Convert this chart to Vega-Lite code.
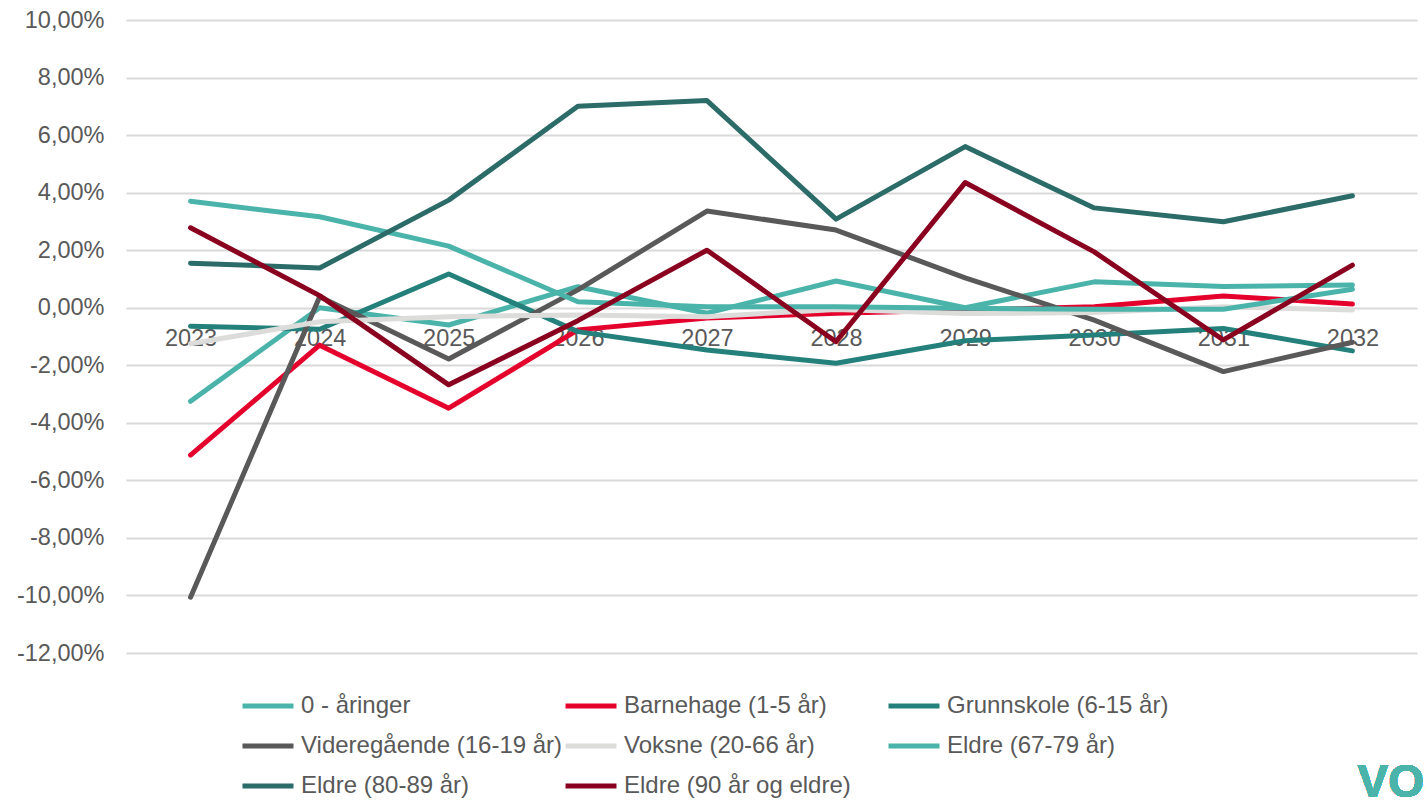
{
  "$schema": "https://vega.github.io/schema/vega-lite/v6.json",
  "autosize": "none",
  "width": 1291,
  "height": 633,
  "padding": {"left": 126, "top": 20, "right": 8, "bottom": 149},
  "background": "white",
  "config": {
    "view": {"stroke": null},
    "font": "Liberation Sans",
    "axis": {"labelFont": "Liberation Sans", "labelColor": "#595959", "labelFontSize": 23.5},
    "legend": {"labelFont": "Liberation Sans", "labelColor": "#595959", "labelFontSize": 24}
  },
  "data": {
    "values": [
      {"serie": "0 - åringer", "year": "2023", "v": -3.25},
      {"serie": "0 - åringer", "year": "2024", "v": 0.0},
      {"serie": "0 - åringer", "year": "2025", "v": -0.6},
      {"serie": "0 - åringer", "year": "2026", "v": 0.73},
      {"serie": "0 - åringer", "year": "2027", "v": -0.19},
      {"serie": "0 - åringer", "year": "2028", "v": 0.93},
      {"serie": "0 - åringer", "year": "2029", "v": 0.0},
      {"serie": "0 - åringer", "year": "2030", "v": 0.9},
      {"serie": "0 - åringer", "year": "2031", "v": 0.74},
      {"serie": "0 - åringer", "year": "2032", "v": 0.79},
      {"serie": "Barnehage (1-5 år)", "year": "2023", "v": -5.12},
      {"serie": "Barnehage (1-5 år)", "year": "2024", "v": -1.3},
      {"serie": "Barnehage (1-5 år)", "year": "2025", "v": -3.49},
      {"serie": "Barnehage (1-5 år)", "year": "2026", "v": -0.77},
      {"serie": "Barnehage (1-5 år)", "year": "2027", "v": -0.36},
      {"serie": "Barnehage (1-5 år)", "year": "2028", "v": -0.19},
      {"serie": "Barnehage (1-5 år)", "year": "2029", "v": -0.08},
      {"serie": "Barnehage (1-5 år)", "year": "2030", "v": 0.03},
      {"serie": "Barnehage (1-5 år)", "year": "2031", "v": 0.41},
      {"serie": "Barnehage (1-5 år)", "year": "2032", "v": 0.13},
      {"serie": "Grunnskole (6-15 år)", "year": "2023", "v": -0.64},
      {"serie": "Grunnskole (6-15 år)", "year": "2024", "v": -0.75},
      {"serie": "Grunnskole (6-15 år)", "year": "2025", "v": 1.17},
      {"serie": "Grunnskole (6-15 år)", "year": "2026", "v": -0.83},
      {"serie": "Grunnskole (6-15 år)", "year": "2027", "v": -1.47},
      {"serie": "Grunnskole (6-15 år)", "year": "2028", "v": -1.93},
      {"serie": "Grunnskole (6-15 år)", "year": "2029", "v": -1.15},
      {"serie": "Grunnskole (6-15 år)", "year": "2030", "v": -0.95},
      {"serie": "Grunnskole (6-15 år)", "year": "2031", "v": -0.72},
      {"serie": "Grunnskole (6-15 år)", "year": "2032", "v": -1.5},
      {"serie": "Videregående (16-19 år)", "year": "2023", "v": -10.06},
      {"serie": "Videregående (16-19 år)", "year": "2024", "v": 0.38},
      {"serie": "Videregående (16-19 år)", "year": "2025", "v": -1.78},
      {"serie": "Videregående (16-19 år)", "year": "2026", "v": 0.62},
      {"serie": "Videregående (16-19 år)", "year": "2027", "v": 3.36},
      {"serie": "Videregående (16-19 år)", "year": "2028", "v": 2.7},
      {"serie": "Videregående (16-19 år)", "year": "2029", "v": 1.04},
      {"serie": "Videregående (16-19 år)", "year": "2030", "v": -0.43},
      {"serie": "Videregående (16-19 år)", "year": "2031", "v": -2.22},
      {"serie": "Videregående (16-19 år)", "year": "2032", "v": -1.2},
      {"serie": "Voksne (20-66 år)", "year": "2023", "v": -1.25},
      {"serie": "Voksne (20-66 år)", "year": "2024", "v": -0.49},
      {"serie": "Voksne (20-66 år)", "year": "2025", "v": -0.31},
      {"serie": "Voksne (20-66 år)", "year": "2026", "v": -0.25},
      {"serie": "Voksne (20-66 år)", "year": "2027", "v": -0.31},
      {"serie": "Voksne (20-66 år)", "year": "2028", "v": -0.06},
      {"serie": "Voksne (20-66 år)", "year": "2029", "v": -0.2},
      {"serie": "Voksne (20-66 år)", "year": "2030", "v": -0.17},
      {"serie": "Voksne (20-66 år)", "year": "2031", "v": 0.03},
      {"serie": "Voksne (20-66 år)", "year": "2032", "v": -0.08},
      {"serie": "Eldre (67-79 år)", "year": "2023", "v": 3.7},
      {"serie": "Eldre (67-79 år)", "year": "2024", "v": 3.16},
      {"serie": "Eldre (67-79 år)", "year": "2025", "v": 2.14},
      {"serie": "Eldre (67-79 år)", "year": "2026", "v": 0.21},
      {"serie": "Eldre (67-79 år)", "year": "2027", "v": 0.03},
      {"serie": "Eldre (67-79 år)", "year": "2028", "v": 0.03},
      {"serie": "Eldre (67-79 år)", "year": "2029", "v": -0.02},
      {"serie": "Eldre (67-79 år)", "year": "2030", "v": -0.05},
      {"serie": "Eldre (67-79 år)", "year": "2031", "v": -0.05},
      {"serie": "Eldre (67-79 år)", "year": "2032", "v": 0.64},
      {"serie": "Eldre (80-89 år)", "year": "2023", "v": 1.55},
      {"serie": "Eldre (80-89 år)", "year": "2024", "v": 1.38},
      {"serie": "Eldre (80-89 år)", "year": "2025", "v": 3.74},
      {"serie": "Eldre (80-89 år)", "year": "2026", "v": 7.0},
      {"serie": "Eldre (80-89 år)", "year": "2027", "v": 7.2},
      {"serie": "Eldre (80-89 år)", "year": "2028", "v": 3.08},
      {"serie": "Eldre (80-89 år)", "year": "2029", "v": 5.6},
      {"serie": "Eldre (80-89 år)", "year": "2030", "v": 3.47},
      {"serie": "Eldre (80-89 år)", "year": "2031", "v": 2.99},
      {"serie": "Eldre (80-89 år)", "year": "2032", "v": 3.89},
      {"serie": "Eldre (90 år og eldre)", "year": "2023", "v": 2.78},
      {"serie": "Eldre (90 år og eldre)", "year": "2024", "v": 0.42},
      {"serie": "Eldre (90 år og eldre)", "year": "2025", "v": -2.68},
      {"serie": "Eldre (90 år og eldre)", "year": "2026", "v": -0.45},
      {"serie": "Eldre (90 år og eldre)", "year": "2027", "v": 2.0},
      {"serie": "Eldre (90 år og eldre)", "year": "2028", "v": -1.18},
      {"serie": "Eldre (90 år og eldre)", "year": "2029", "v": 4.35},
      {"serie": "Eldre (90 år og eldre)", "year": "2030", "v": 1.94},
      {"serie": "Eldre (90 år og eldre)", "year": "2031", "v": -1.12},
      {"serie": "Eldre (90 år og eldre)", "year": "2032", "v": 1.48}
    ]
  },
  "layer": [
    {
      "mark": {"type": "line", "strokeWidth": 5, "strokeCap": "round", "strokeJoin": "round"},
      "encoding": {
        "x": {
          "field": "year", "type": "ordinal",
          "scale": {"type": "point", "padding": 0.5},
          "axis": {"title": null, "domain": false, "ticks": false, "labelAngle": 0, "offset": -345.5, "labelPadding": 19, "zindex": 0, "grid": false}
        },
        "y": {
          "field": "v", "type": "quantitative",
          "scale": {"domain": [-12, 10], "nice": false, "zero": false},
          "axis": {
            "title": null, "domain": false, "ticks": false,
            "values": [-12, -10, -8, -6, -4, -2, 0, 2, 4, 6, 8, 10],
            "labelPadding": 22,
            "gridColor": "#d9d9d9", "gridWidth": 2,
            "labelExpr": "(datum.value < 0 ? '-' : '') + replace(format(abs(datum.value), '.2f'), '.', ',') + '%'"
          }
        },
        "color": {
          "field": "serie", "type": "nominal",
          "scale": {
            "domain": ["0 - åringer", "Barnehage (1-5 år)", "Grunnskole (6-15 år)", "Videregående (16-19 år)", "Voksne (20-66 år)", "Eldre (67-79 år)", "Eldre (80-89 år)", "Eldre (90 år og eldre)"],
            "range": ["#4bb4aa", "#e4022d", "#24807a", "#595959", "#dcdcdb", "#4bb4aa", "#2b6b68", "#8a001f"]
          },
          "legend": {
            "title": null, "orient": "none", "legendX": 114, "legendY": 658,
            "direction": "horizontal", "columns": 3, "gridAlign": "all",
            "symbolType": "stroke", "symbolSize": 2600, "symbolStrokeWidth": 5,
            "labelOffset": 5, "columnPadding": -8, "rowPadding": -8, "labelLimit": 400
          }
        }
      }
    },
    {
      "mark": {"type": "text", "text": "VOS", "fontSize": 46, "fontWeight": "bold", "color": "#4bb4aa", "align": "left", "baseline": "alphabetic", "dx": 5, "font": "Liberation Sans"},
      "encoding": {
        "x": {"datum": "2032"},
        "y": {"datum": -17}
      }
    }
  ]
}
